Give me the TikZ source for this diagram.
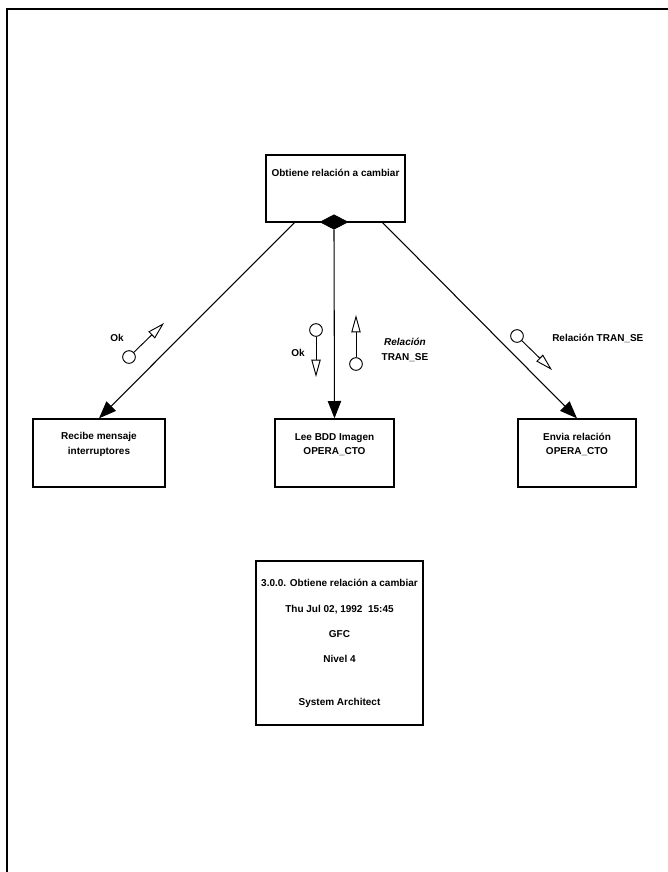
\documentclass[tikz,border=0pt]{standalone}
\usepackage{fontspec}
\setmainfont{Liberation Sans}
\usetikzlibrary{shapes.geometric,arrows.meta}
\begin{document}
\begin{tikzpicture}[x=0.75pt,y=-0.75pt,
  every node/.style={font=\fontsize{7.5}{11}\selectfont\bfseries},
  box/.style={draw,line width=1pt,inner sep=0pt,rectangle},
  lbl/.style={inner sep=0pt,align=center},
  conn/.style={line width=0.8pt,-{Triangle[length=13pt,width=10pt]}},
  flow/.style={line width=0.7pt,-{Triangle[open,length=13pt,width=7pt]}},
  token/.style={draw,circle,line width=0.7pt,minimum size=9.5pt,inner sep=0pt}]
\useasboundingbox (0,0) rectangle (668,872);
% frame
\coordinate (fa) at (7,872);
\coordinate (fb) at (7,9);
\coordinate (fc) at (668,9);
\draw[line width=1.4pt] (fa) -- (fb) -- (fc);
% process boxes
\node[box,minimum width=104.25pt,minimum height=50.25pt] (top) at (335.5,188.5) {};
\node[lbl] (topt) at (335.5,173) {Obtiene relación a cambiar};
\node[box,minimum width=99pt,minimum height=51pt] (b1) at (99,453) {};
\node[lbl] (b1t) at (99,444.5) {Recibe mensaje\\interruptores};
\node[box,minimum width=89.25pt,minimum height=51pt] (b2) at (334.5,453) {};
\node[lbl] (b2t) at (334.5,444.5) {Lee BDD Imagen\\OPERA\_CTO};
\node[box,minimum width=88.5pt,minimum height=51pt] (b3) at (577,453) {};
\node[lbl] (b3t) at (577,444.5) {Envia relación\\OPERA\_CTO};
% diamond
\node[diamond,fill=black,draw=black,minimum width=21pt,minimum height=11pt,inner sep=0pt,aspect=1.9] (dm) at (334,222) {};
% connectors
\coordinate (s1) at (295,222);
\coordinate (s3) at (382,222);
\draw[conn] (s1) -- (b1.north);
\draw[conn] (dm.south) -- (b2.north);
\draw[conn] (s3) -- (b3.north);
% data couples
\node[token] (c1) at (129,357) {};
\coordinate (t1) at (164,323);
\draw[flow] (c1) -- (t1);
\node[lbl] (l1) at (117,338) {Ok};
\node[token] (c2) at (316,330) {};
\coordinate (t2) at (316,377);
\draw[flow] (c2) -- (t2);
\node[lbl] (l2) at (298,353) {Ok};
\node[token] (c3) at (356,364) {};
\coordinate (t3) at (356,315);
\draw[flow] (c3) -- (t3);
\node[lbl] (l3) at (405,350) {\itshape Relación\\TRAN\_SE};
\node[token] (c4) at (517,336) {};
\coordinate (t4) at (552,370);
\draw[flow] (c4) -- (t4);
\node[lbl,anchor=west] (l4) at (552,338) {Relación TRAN\_SE};
% title block
\node[box,minimum width=125.25pt,minimum height=123pt] (sb) at (339.5,643) {};
\node[lbl] (sb1) at (339.5,583) {3.0.0. Obtiene relación a cambiar};
\node[lbl] (sb2) at (339.5,610) {Thu Jul 02, 1992\ \ 15:45};
\node[lbl] (sb3) at (339.5,634) {GFC};
\node[lbl] (sb4) at (339.5,659) {Nivel 4};
\node[lbl] (sb5) at (339.5,703) {System Architect};
\end{tikzpicture}
\end{document}
